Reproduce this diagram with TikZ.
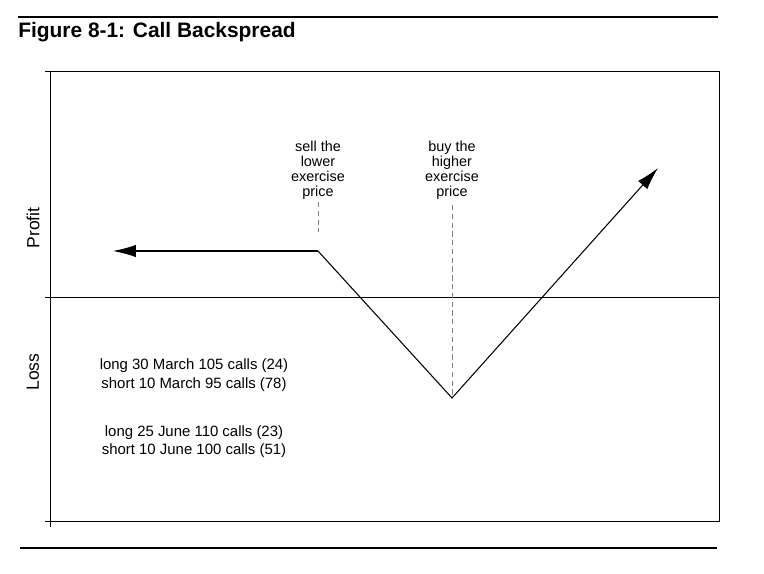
\documentclass[tikz,border=0pt]{standalone}
\usepackage{fontspec}
\setmainfont{Liberation Sans}
\usetikzlibrary{arrows.meta,positioning}

\begin{document}
\begin{tikzpicture}[x=0.02cm,y=-0.02cm,
    lbl/.style={align=center,font=\fontsize{8.2}{8.4}\selectfont,inner sep=0pt},
    note/.style={align=center,font=\fontsize{8.5}{10.5}\selectfont,inner sep=0pt},
    axislbl/.style={rotate=90,font=\fontsize{10}{12}\selectfont,inner sep=0pt},
    guide/.style={densely dashed,gray,line width=0.4pt},
    payoff/.style={line width=0.6pt,-{Latex[length=13pt,width=7pt]}}]
        \useasboundingbox (0,0) rectangle (764,574);
        % rules and title
        \draw[line width=1.2pt] (18,17) -- (718,17);
        \draw[line width=1.2pt] (20,548) -- (717,548);
        \node[anchor=base west,inner sep=0pt,font=\fontsize{11.9}{14}\selectfont\bfseries] (title) at (18,38) {Figure 8-1: Call Backspread};
        % frame
        \draw[line width=0.5pt] (45,71) -- (719,71) -- (719,521) -- (45,521);
        \draw[line width=0.5pt] (50,71) -- (50,527);
        \draw[line width=0.5pt] (45,297) -- (720,297);
        \node[axislbl] (profit) at (33,228) {Profit};
        \node[axislbl] (loss) at (33,372) {Loss};
        % payoff
        \coordinate (left) at (113,251);
        \coordinate (kink) at (318,251);
        \coordinate (vertex) at (452,398);
        \coordinate (right) at (658,168);
        \draw[payoff] (kink) -- (left);
        \draw[payoff] (kink) -- (vertex) -- (right);
        % exercise prices
        \node[lbl,anchor=north] (sell) at (318,141) {sell the\\lower\\exercise\\price};
        \node[lbl,anchor=north] (buy) at (452,141) {buy the\\higher\\exercise\\price};
        \draw[guide] (318,202) -- (318,232);
        \draw[guide] (452,205) -- (vertex);
        % positions
        \node[note] (march) at (194,375) {long 30 March 105 calls (24)\\short 10 March 95 calls (78)};
        \node[note,below=19pt of march] (june) {long 25 June 110 calls (23)\\short 10 June 100 calls (51)};
    \end{tikzpicture}
\end{document}
